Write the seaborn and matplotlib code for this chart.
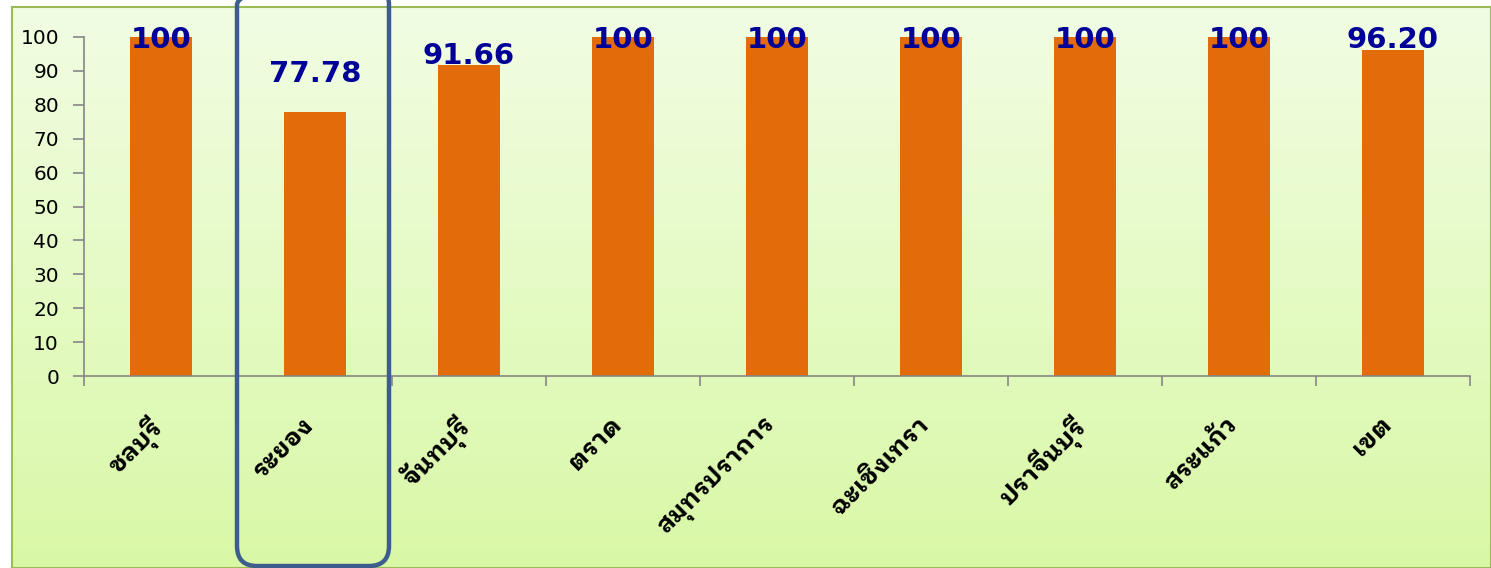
import numpy as np
import pandas as pd
import matplotlib
matplotlib.use("Agg")
import matplotlib.pyplot as plt
import seaborn as sns
from matplotlib import font_manager
from matplotlib.ft2font import FT2Font
from matplotlib.patches import FancyBboxPatch
from matplotlib.transforms import IdentityTransform, ScaledTranslation
import matplotlib.patheffects as pe

# Data
provinces = ["ชลบุรี", "ระยอง", "จันทบุรี", "ตราด", "สมุทรปราการ",
             "ฉะเชิงเทรา", "ปราจีนบุรี", "สระแก้ว", "เขต"]
percent = [100, 77.78, 91.66, 100, 100, 100, 100, 100, 96.20]
value_text = ["100", "77.78", "91.66", "100", "100", "100", "100", "100", "96.20"]
yticks = [0, 10, 20, 30, 40, 50, 60, 70, 80, 90, 100]


def find_thai_font():
    """Pick an installed family with Thai glyphs, preferring one with a bold face."""
    found = {}
    for f in font_manager.fontManager.ttflist:
        try:
            cmap = FT2Font(f.fname).get_charmap()
        except Exception:
            continue
        if 0x0E0A in cmap and 0x0E1A in cmap:
            w = f.weight if isinstance(f.weight, int) else 400
            found.setdefault(f.name, set()).add(w)
    if not found:
        return "DejaVu Sans", False
    with_bold = [n for n, ws in found.items() if max(ws) >= 600]
    for pref in ["IBM Plex Sans Thai Looped", "Loma", "Tahoma", "Garuda"]:
        if pref in with_bold:
            return pref, True
    if with_bold:
        return with_bold[0], True
    return next(iter(found)), False


sns.set_theme(style="white")
thai_family, has_bold = find_thai_font()
plt.rcParams["font.family"] = [thai_family, "DejaVu Sans"]

W, H = 1491, 568
fig = plt.figure(figsize=(W / 100, H / 100), dpi=100)
fig.patch.set_facecolor("white")

# Gradient panel behind the chart
bg = fig.add_axes([12 / W, 0, 1 - 12 / W, (H - 7) / H], zorder=0)
grad = np.linspace(0, 1, 256).reshape(-1, 1)
top_c = np.array([0xF1, 0xFD, 0xE3]) / 255
bot_c = np.array([0xD9, 0xF8, 0xA6]) / 255
img = top_c * (1 - grad[..., None]) + bot_c * grad[..., None]
bg.imshow(img, aspect="auto", extent=[0, 1, 0, 1], origin="upper")
bg.set_xticks([])
bg.set_yticks([])
for s in bg.spines.values():
    s.set_color("#9BBB59")
    s.set_linewidth(1.5)

# Main axes
left, right = 84 / W, 1470 / W
bottom, top = 1 - 376 / H, 1 - 37 / H
ax = fig.add_axes([left, bottom, right - left, top - bottom], zorder=2)
ax.set_facecolor("none")

df = pd.DataFrame({"province": provinces, "percent": percent})
sns.barplot(data=df, x="province", y="percent", color="#E36C0A",
            width=0.4, saturation=1, edgecolor="none", ax=ax)

ax.set_ylim(0, 100)
ax.set_xlim(-0.5, len(provinces) - 0.5)
ax.set_yticks(yticks)
ax.set_yticklabels([str(t) for t in yticks], family="DejaVu Sans", fontsize=14.5,
                   color="black")
ax.set_xlabel("")
ax.set_ylabel("")

# Category names, rotated, with tick marks between categories
ax.set_xticks(np.arange(len(provinces)))
ax.set_xticklabels(provinces, rotation=45, ha="right", va="top",
                   rotation_mode="anchor", fontsize=18,
                   fontweight="bold" if has_bold else "normal", color="black")
ax.tick_params(axis="x", length=0, pad=26)
shift = ScaledTranslation(-14 / 100, 0, fig.dpi_scale_trans)
for lab in ax.get_xticklabels():
    lab.set_transform(lab.get_transform() + shift)
    if not has_bold:
        lab.set_path_effects([pe.withStroke(linewidth=1.1, foreground="black")])
ax.set_xticks(np.arange(len(provinces) + 1) - 0.5, minor=True)
ax.tick_params(axis="x", which="minor", length=7, width=1.2, color="#868686",
               direction="out", bottom=True)
ax.tick_params(axis="y", length=8, width=1.2, color="#868686", direction="out",
               left=True, pad=10)

for side in ["top", "right"]:
    ax.spines[side].set_visible(False)
for side in ["left", "bottom"]:
    ax.spines[side].set_color("#868686")
    ax.spines[side].set_linewidth(1.2)

# Value labels
label_y = [99, 89, 94.4, 99, 99, 99, 99, 99, 99]
for i, (txt, ly) in enumerate(zip(value_text, label_y)):
    ax.text(i, ly, txt, ha="center", va="center", family="DejaVu Sans",
            fontweight="bold", fontsize=21, color="#000099", zorder=5)

# Highlight frame around the second province (pixel coordinates)
frame = FancyBboxPatch((237, 2), 152, 581,
                       boxstyle="round,pad=0,rounding_size=20",
                       transform=IdentityTransform(), facecolor="none",
                       edgecolor="#3D5E8C", linewidth=3.2, zorder=10)
fig.patches.append(frame)

fig.savefig("out.png", dpi=100)
